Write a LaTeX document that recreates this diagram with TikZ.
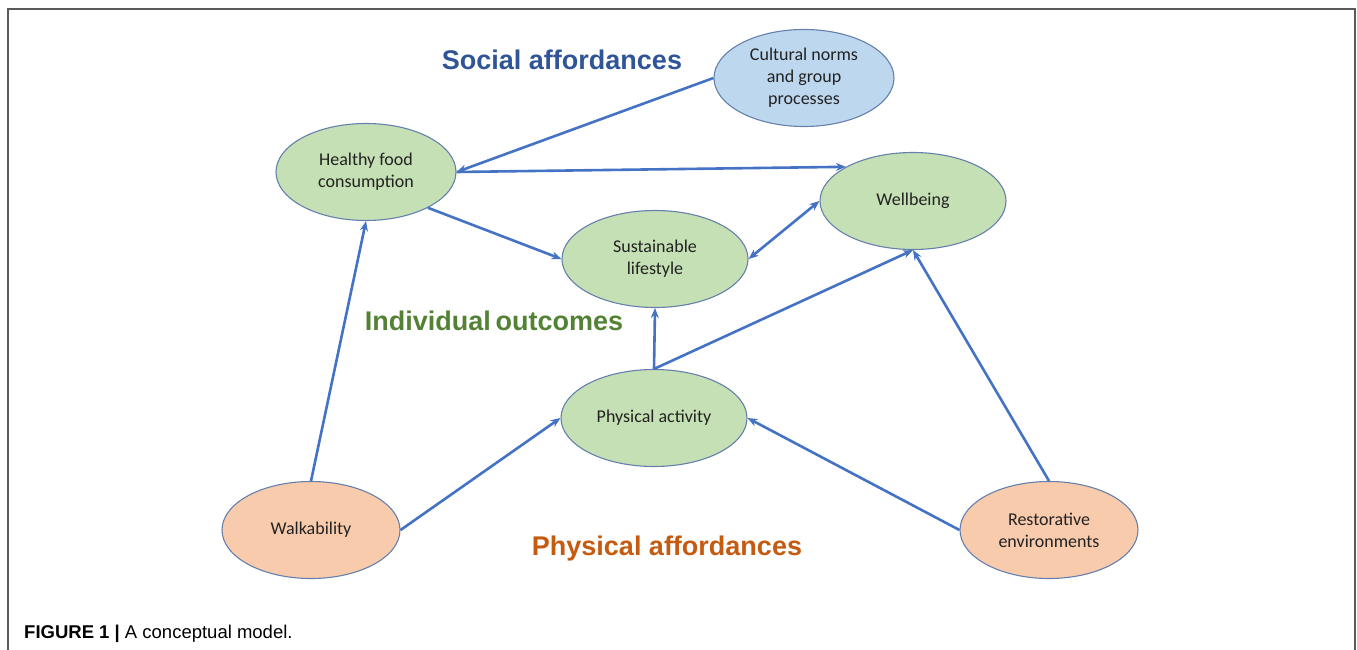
\documentclass[tikz,border=0pt]{standalone}
\usepackage{fontspec}
\setmainfont{Liberation Sans}
\newfontfamily\nodefont{Carlito}
\usetikzlibrary{shapes.geometric,arrows.meta}

\definecolor{greenfill}{HTML}{C5E0B4}
\definecolor{bluefill}{HTML}{BDD7EE}
\definecolor{orangefill}{HTML}{F8CBAD}
\definecolor{rim}{HTML}{6580AC}
\definecolor{link}{HTML}{4472C4}
\definecolor{socialc}{HTML}{2F5597}
\definecolor{indivc}{HTML}{548235}
\definecolor{physc}{HTML}{C55A11}
\definecolor{framec}{HTML}{5A5A5A}
\definecolor{inkc}{HTML}{222222}

\tikzset{
  concept/.style={ellipse, draw=rim, line width=1.1pt, inner sep=0pt,
    minimum width=180pt, minimum height=97pt, align=center,
    font=\nodefont\fontsize{18}{22}\selectfont, text=inkc},
  outcome/.style={concept, fill=greenfill},
  social/.style={concept, fill=bluefill},
  physical/.style={concept, fill=orangefill},
  influence/.style={draw=link, line width=2.6pt,
    -{Stealth[length=10pt,width=8pt]}},
  mutual/.style={influence, {Stealth[length=10pt,width=8pt]}-{Stealth[length=10pt,width=8pt]}},
  heading/.style={font=\bfseries\fontsize{27}{30}\selectfont, inner sep=0pt}
}

\begin{document}
\begin{tikzpicture}[x=1pt,y=1pt]
  \useasboundingbox (0,0) rectangle (1357,-650);
  % open frame around the figure
  \draw[framec, line width=1.5pt] (8,-650) -- (8,-9) -- (1355,-9) -- (1355,-650);

  % concepts
  \node[social]   (cult) at (804,-78)  {Cultural norms\\and group\\processes};
  \node[outcome]  (food) at (366,-172) {Healthy food\\consumption};
  \node[outcome, minimum width=186pt] (well) at (913,-201) {Wellbeing};
  \node[outcome, minimum width=186pt] (sust) at (655,-259) {Sustainable\\lifestyle};
  \node[outcome, minimum width=186pt] (phys) at (654,-418) {Physical activity};
  \node[physical, minimum width=178pt] (walk) at (311,-530) {Walkability};
  \node[physical, minimum width=178pt] (rest) at (1049,-530) {Restorative\\environments};

  % group headings
  \node[heading, text=socialc] (hsoc) at (562,-60) {Social affordances};
  \node[heading, text=indivc]  (hind) at (494,-321) {Individual\kern-0.1em\ outcomes};
  \node[heading, text=physc]   (hphy) at (667,-549) {Physical affordances};

  % influences
  \draw[influence] (cult.west) -- (food.east);
  \draw[influence] (food.east) -- (well.153);
  \draw[influence] (food.-30) -- (sust.west);
  \draw[mutual]    (sust.east) -- (well.west);
  \draw[influence] (phys.north) -- (sust.south);
  \draw[influence] (phys.north) -- (well.south);
  \draw[influence] (walk.north) -- (food.south);
  \draw[influence] (walk.east) -- (phys.west);
  \draw[influence] (rest.west) -- (phys.east);
  \draw[influence] (rest.north) -- (well.south);

  % caption
  \node[anchor=base west, inner sep=0pt, font=\fontsize{18.5}{20}\selectfont, text=black] (cap) at (24,-638)
    {\textbf{FIGURE 1 |} A conceptual model.};
\end{tikzpicture}
\end{document}
